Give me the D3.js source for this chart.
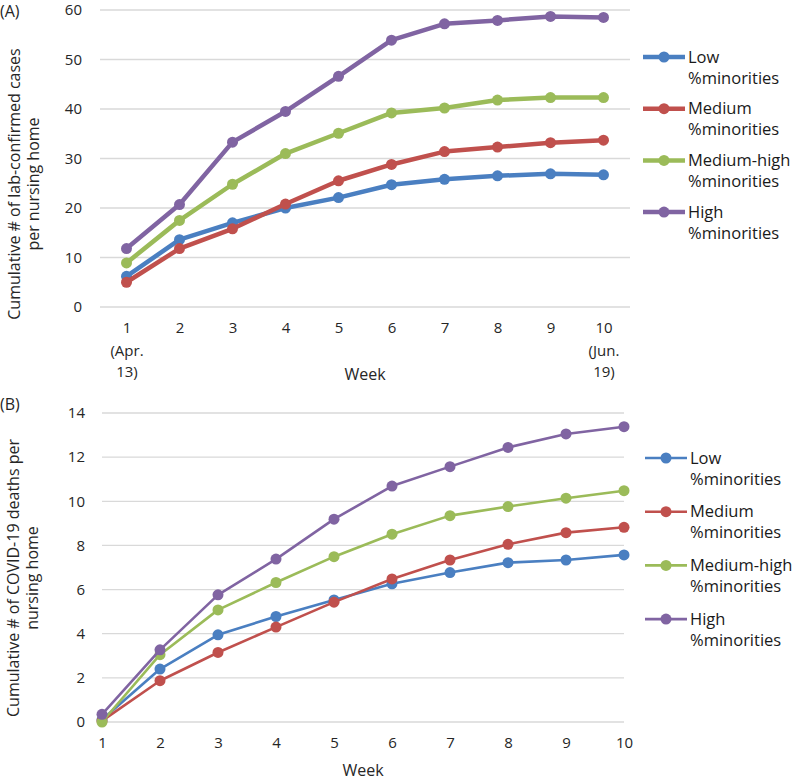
<!DOCTYPE html>
<html><head><meta charset="utf-8">
<script src="https://cdn.jsdelivr.net/npm/d3@7"></script>
<style>body{margin:0;background:#fff}svg{display:block;font-family:"Open Sans",sans-serif}</style>
</head><body>
<script>
const weeks = [1,2,3,4,5,6,7,8,9,10];
const seriesNames = ["Low", "Medium", "Medium-high", "High"];
const seriesColors = ["#4a7fc1", "#c0504d", "#9bbb59", "#8064a2"];
const casesLow = [6.2,13.6,17.0,20.0,22.1,24.7,25.8,26.5,26.9,26.7];
const casesMedium = [5.0,11.8,15.8,20.8,25.5,28.8,31.4,32.3,33.2,33.7];
const casesMedHigh = [8.9,17.5,24.8,31.0,35.1,39.2,40.2,41.8,42.3,42.3];
const casesHigh = [11.8,20.7,33.3,39.5,46.6,53.9,57.2,57.9,58.7,58.5];
const deathsLow = [0.1,2.40,3.95,4.78,5.53,6.26,6.77,7.22,7.34,7.57];
const deathsMedium = [0.05,1.87,3.15,4.30,5.43,6.48,7.34,8.05,8.58,8.82];
const deathsMedHigh = [0.0,3.05,5.08,6.32,7.49,8.51,9.35,9.76,10.14,10.48];
const deathsHigh = [0.35,3.27,5.76,7.38,9.19,10.69,11.57,12.44,13.05,13.38];
const casesTicks = [0,10,20,30,40,50,60];
const deathsTicks = [0,2,4,6,8,10,12,14];
const topXSub = {1:["(Apr.","13)"],10:["(Jun.","19)"]};

const svg = d3.select("body").append("svg").attr("width",795).attr("height",782);

function panel(cfg){
  const g = svg.append("g");
  const x = cfg.band
    ? d3.scalePoint().domain(weeks).range([cfg.x0,cfg.x1]).padding(0.5)
    : d3.scalePoint().domain(weeks).range([cfg.x0,cfg.x1]).padding(0);
  const y = d3.scaleLinear().domain([0,cfg.ymax]).range([cfg.y0,cfg.y1]);
  g.append("g").selectAll("line").data(cfg.ticks).join("line")
    .attr("x1",cfg.gx0).attr("x2",cfg.gx1)
    .attr("y1",d=>y(d)).attr("y2",d=>y(d))
    .attr("stroke","#d9d9d9").attr("stroke-width",1.3);
  const ya = d3.axisLeft(y).tickValues(cfg.ticks).tickSize(0).tickPadding(0);
  const yg = g.append("g").attr("transform",`translate(${cfg.ylabX},0)`).call(ya);
  yg.select(".domain").remove();
  yg.selectAll("text").attr("font-size",15).attr("fill","#262626").attr("font-family","Open Sans");
  const xa = d3.axisBottom(x).tickSize(0).tickPadding(0);
  const xg = g.append("g").attr("transform",`translate(0,${cfg.xlabY})`).call(xa);
  xg.select(".domain").remove();
  xg.selectAll("text").attr("font-size",15).attr("fill","#262626").attr("font-family","Open Sans").attr("dy","0.71em");
  if(cfg.sub){
    xg.selectAll(".tick").each(function(d){
      const s = topXSub[d]; if(!s) return;
      s.forEach((line,i)=>{
        d3.select(this).append("text").attr("fill","#262626").attr("font-size",15)
          .attr("font-family","Open Sans").attr("text-anchor","middle")
          .attr("y",(i+1)*21+2).attr("dy","0.71em").text(line);
      });
    });
  }
  g.append("text").attr("x",cfg.weekX).attr("y",cfg.weekY).attr("text-anchor","middle")
    .attr("font-size",16).attr("fill","#262626").text("Week");
  g.append("text").attr("x",0).attr("y",cfg.labY).attr("font-size",16).attr("fill","#262626").text(cfg.label);
  const yt = g.append("text").attr("transform",`translate(${cfg.ytX},${cfg.ytY}) rotate(-90)`)
    .attr("text-anchor","middle").attr("font-size",16).attr("fill","#262626");
  cfg.ytitle.forEach((l,i)=>yt.append("tspan").attr("x",0).attr("dy",i?19:0).text(l));
  const line = d3.line().x((d,i)=>x(weeks[i])).y(d=>y(d));
  cfg.data.forEach((arr,k)=>{
    const sg = g.append("g");
    sg.append("path").attr("d",line(arr)).attr("fill","none").attr("stroke",seriesColors[k])
      .attr("stroke-width",cfg.lw).attr("stroke-linejoin","round");
    sg.selectAll("circle").data(arr).join("circle")
      .attr("cx",(d,i)=>x(weeks[i])).attr("cy",d=>y(d)).attr("r",cfg.r).attr("fill",seriesColors[k]);
  });
  const lg = g.append("g");
  seriesNames.forEach((n,k)=>{
    const yy = cfg.legY0 + k*cfg.legStep;
    lg.append("line").attr("x1",cfg.legX0).attr("x2",cfg.legX0+42).attr("y1",yy).attr("y2",yy)
      .attr("stroke",seriesColors[k]).attr("stroke-width",cfg.lw);
    lg.append("circle").attr("cx",cfg.legX0+21).attr("cy",yy).attr("r",cfg.r).attr("fill",seriesColors[k]);
    const t = lg.append("text").attr("x",cfg.legX0+45).attr("y",yy).attr("dy","0.35em")
      .attr("font-size",16.5).attr("fill","#1a1a1a");
    t.append("tspan").attr("x",cfg.legX0+45).text(n);
    t.append("tspan").attr("x",cfg.legX0+45).attr("dy",21).text("%minorities");
  });
}

panel({band:true,x0:100,x1:630,gx0:100,gx1:630,y0:307,y1:10,ymax:60,ticks:casesTicks,
  ylabX:82,xlabY:322,sub:true,weekX:365,weekY:380,labY:17,label:"(A)",
  ytX:20,ytY:184,ytitle:["Cumulative # of lab-confirmed cases","per nursing home"],
  data:[casesLow,casesMedium,casesMedHigh,casesHigh],lw:4.5,r:5.5,
  legX0:643,legY0:57,legStep:51.7});
panel({band:false,x0:102,x1:624,gx0:102,gx1:624,y0:722,y1:413,ymax:14,ticks:deathsTicks,
  ylabX:85,xlabY:737,sub:false,weekX:363,weekY:776,labY:410,label:"(B)",
  ytX:19,ytY:578,ytitle:["Cumulative # of COVID-19 deaths per","nursing home"],
  data:[deathsLow,deathsMedium,deathsMedHigh,deathsHigh],lw:2.6,r:5.5,
  legX0:645,legY0:458,legStep:53.7});
</script>
</body></html>
